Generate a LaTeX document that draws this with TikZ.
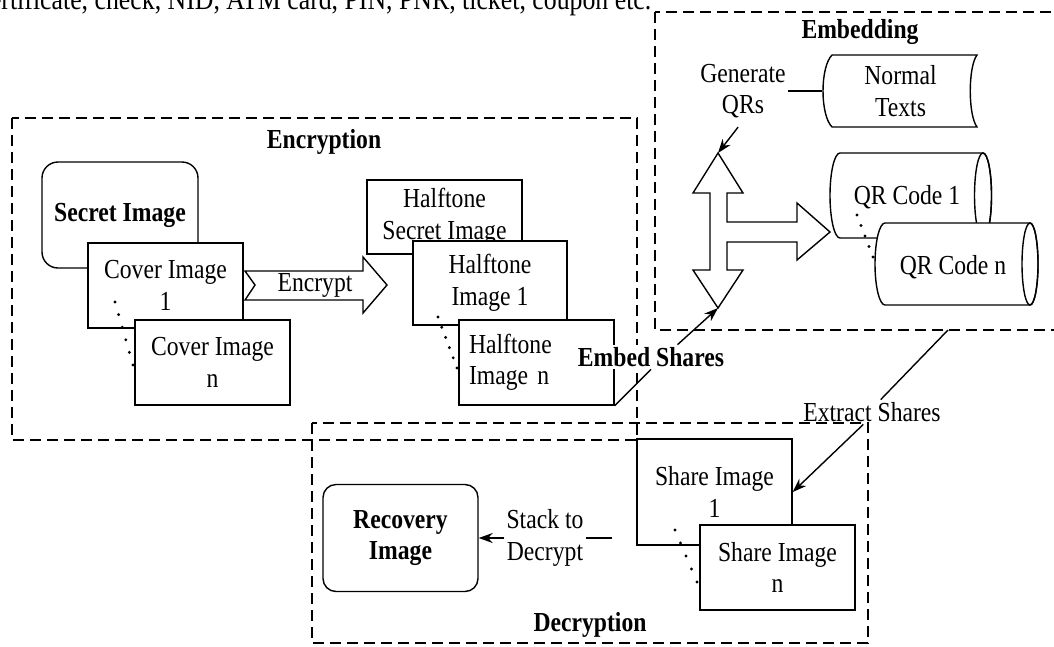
\documentclass[tikz,border=0pt]{standalone}
\usepackage{fontspec}
\setmainfont{Liberation Serif}[FakeStretch=0.86]
\usetikzlibrary{arrows.meta}
\begin{document}
\begin{tikzpicture}[x=1pt,y=-1pt,line width=1.4pt,
  every node/.style={font=\fontsize{27.5}{31.5}\selectfont,inner sep=2pt},
  imgbox/.style={draw,fill=white,align=center,minimum width=155pt,minimum height=85pt},
  rimg/.style={imgbox,rounded corners=13pt,font=\fontsize{27.5}{31.5}\selectfont\bfseries},
  phase/.style={draw,dash pattern=on 11pt off 6pt,line width=1.2pt},
  ttl/.style={font=\fontsize{27.5}{31.5}\selectfont\bfseries},
  lbl/.style={align=center},
  arr/.style={-{Stealth[length=14pt,width=10pt]}},
  blk/.style={draw,fill=white,line join=miter}]
\useasboundingbox (0,0) rectangle (1054,646);
\fill[white] (0,0) rectangle (1054,646);
\pgfmathsetmacro{\dotr}{1.6}
\node[anchor=base east,inner sep=0pt,font=\fontsize{30}{30}\selectfont] (pagetxt) at (652,9) {certificate, check, NID, ATM card, PIN, PNR, ticket, coupon etc.};
% the three phases
\draw[phase] (12,118) rectangle (637,440);
\draw[phase] (655,12) rectangle (1062,330);
\draw[phase] (312,423) rectangle (868,643);
\node[ttl] (enctl) at (324,142) {Encryption};
\node[ttl] (embtl) at (860,32) {Embedding};
\node[ttl] (dectl) at (590,625) {Decryption};
% encryption
\node[rimg,minimum width=156pt,minimum height=106pt,rounded corners=16pt] (secret) at (120,215) {Secret Image};
\node[imgbox] (cover1) at (165.5,285.5) {Cover Image\\1};
\node[imgbox] (covern) at (212.5,362.5) {Cover Image\\n};
\foreach \k in {0,...,5}{\fill (115+3.6*\k,302+12.6*\k) circle (\dotr pt);}
\draw[blk] (245,271) -- (363,271) -- (363,257) -- (387,285) -- (363,313) -- (363,300) -- (245,300) -- (255,285) -- cycle;
\node (encr) at (315,285) {Encrypt};
\node[imgbox,minimum height=74pt] (htsec) at (444.5,217) {Halftone\\Secret Image};
\node[imgbox,minimum width=154pt,minimum height=84pt] (ht1) at (490,283) {Halftone\\Image 1};
\node[imgbox,text width=135pt,align=left] (htn) at (536.5,362.5) {Halftone\\Image n};
\foreach \k in {0,...,5}{\fill (438+3.8*\k,317+10.2*\k) circle (\dotr pt);}
% embedding
\node[lbl] (genqr) at (743,91) {Generate\\QRs};
\node[lbl,minimum width=155pt,minimum height=72pt] (normal) at (900.5,91) {Normal\\Texts};
\draw (832,55) -- (977,55) .. controls (968,67) and (968,115) .. (977,127) -- (832,127) .. controls (820,115) and (820,67) .. (832,55) -- cycle;
\draw[blk] (718,153) -- (743,193) -- (727,193) -- (727,222) -- (797,222) -- (797,203) -- (830,232) -- (797,260) -- (797,242) -- (727,242) -- (727,270) -- (743,270) -- (718,308) -- (693,270) -- (710,270) -- (710,193) -- (693,193) -- cycle;
\coordinate (qrtop) at (718,153);
\coordinate (qrbot) at (718,308);
\draw[blk] (840,153) -- (983,153) arc[start angle=-90,end angle=90,x radius=8.5,y radius=42.5] -- (840,238) arc[start angle=90,end angle=270,x radius=10,y radius=42.5] -- cycle;
\draw (983,195.5) ellipse[x radius=8.5,y radius=42.5];
\node (qr1) at (907,197) {QR Code 1};
\draw[blk] (885,223) -- (1030,223) arc[start angle=-90,end angle=90,x radius=8,y radius=41] -- (885,305) arc[start angle=90,end angle=270,x radius=10,y radius=41] -- cycle;
\draw (1030,264) ellipse[x radius=8,y radius=41];
\node (qrn) at (953,267) {QR Code n};
\foreach \k in {0,...,4}{\fill (857+4*\k,215+10.5*\k) circle (\dotr pt);}
% decryption
\node[rimg,minimum width=155pt,minimum height=107pt] (recov) at (400.5,538) {Recovery\\Image};
\node[imgbox,minimum height=106pt] (share1) at (714.5,492) {Share Image\\1};
\node[imgbox] (sharen) at (777.5,567.5) {Share Image\\n};
\foreach \k in {0,...,4}{\fill (675+5.5*\k,530+13*\k) circle (\dotr pt);}
\node[lbl] (stack) at (545,538) {Stack to\\Decrypt};
\coordinate (stackin) at (612,538);
% links between the phases
\node[ttl,fill=white] (embsh) at (651,357) {Embed Shares};
\node (extsh) at (872,412) {Extract Shares};
\coordinate (extfrom) at (948,330);
\draw (genqr.east) -- (normal.west);
\draw[arr,shorten <=8pt] (genqr.south) -- (qrtop);
\draw (htn.south east) -- (embsh.south);
\draw[arr] (embsh.25) -- (qrbot);
\draw (extfrom) -- (extsh.55);
\draw[arr] (extsh.235) -- (share1.east);
\draw (stackin) -- (stack.east);
\draw[arr] (stack.west) -- (recov.east);
\end{tikzpicture}
\end{document}
